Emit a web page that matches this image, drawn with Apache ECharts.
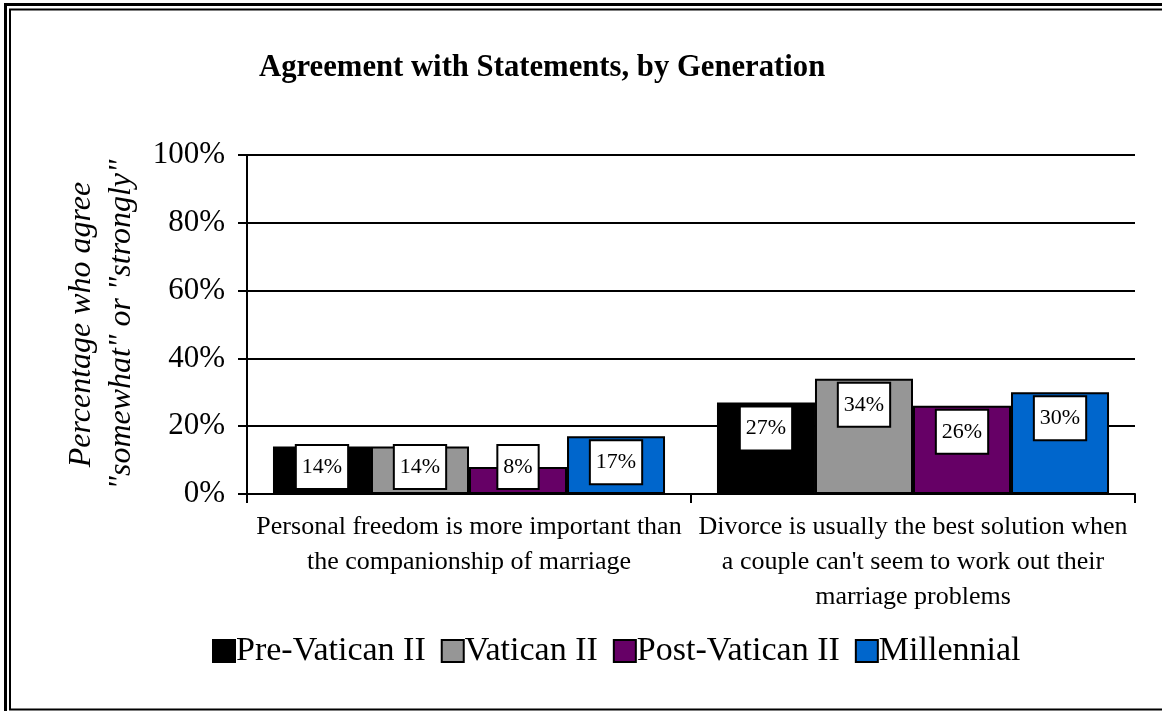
<!DOCTYPE html>
<html>
<head>
<meta charset="utf-8">
<script src="https://cdn.jsdelivr.net/npm/echarts@6/dist/echarts.min.js"></script>
<style>
  html, body { margin: 0; padding: 0; background: #fff; }
  #chart { width: 1162px; height: 711px; }
</style>
</head>
<body>
<div id="chart"></div>
<script>
  // 数据
  var categories = [
    'Personal freedom is more important than\nthe companionship of marriage',
    "Divorce is usually the best solution when\na couple can't seem to work out their\nmarriage problems"
  ];
  var seriesNames = ['Pre-Vatican II', 'Vatican II', 'Post-Vatican II', 'Millennial'];
  var preVatican = [14, 27];
  var vatican = [14, 34];
  var postVatican = [8, 26];
  var millennial = [17, 30];
  var yTicks = [0, 20, 40, 60, 80, 100];

  var colors = ['#000000', '#969696', '#660066', '#0066CC'];
  var font = '"Liberation Serif", "Times New Roman", serif';

  var chart = echarts.init(document.getElementById('chart'));

  function makeSeries(name, values, color) {
    return {
      name: name,
      type: 'bar',
      barGap: 0,
      barCategoryGap: '11.7%',
      itemStyle: {
        color: color,
        borderColor: '#000',
        borderWidth: 2
      },
      // 标签: 小柱子放在底部
      data: values.map(function (v) {
        var small = v < 16;
        return {
          value: v,
          label: {
            position: small ? 'insideBottom' : 'insideTop',
            distance: small ? 6 : 5
          }
        };
      }),
      label: {
        show: true,
        formatter: '{c}%',
        fontFamily: font,
        fontSize: 22,
        color: '#000',
        backgroundColor: '#fff',
        borderColor: '#000',
        borderWidth: 2,
        padding: [10, 5, 10, 5]
      }
    };
  }

  var option = {
    animation: false,
    title: {
      text: 'Agreement with Statements, by Generation',
      left: 254,
      top: 48,
      textStyle: {
        fontFamily: font,
        fontSize: 30.7,
        fontWeight: 'bold',
        color: '#000'
      }
    },
    legend: {
      data: seriesNames,
      left: 207,
      top: 629,
      itemWidth: 22,
      itemHeight: 22,
      itemGap: 15,
      icon: 'rect',
      itemStyle: {
        borderColor: '#000',
        borderWidth: 2
      },
      textStyle: {
        fontFamily: font,
        fontSize: 34,
        color: '#000',
        padding: [0, 0, 0, -4]
      }
    },
    grid: {
      left: 247,
      right: 27,
      top: 155,
      bottom: 217
    },
    xAxis: {
      type: 'category',
      data: categories,
      axisLine: { lineStyle: { color: '#000', width: 2 } },
      axisTick: { show: true, length: 9, lineStyle: { color: '#000', width: 2 } },
      axisLabel: {
        interval: 0,
        margin: 16,
        fontFamily: font,
        fontSize: 26,
        lineHeight: 35,
        color: '#000'
      }
    },
    yAxis: {
      type: 'value',
      min: 0,
      max: 100,
      interval: 20,
      name: 'Percentage who agree\n"somewhat" or "strongly"',
      nameLocation: 'middle',
      nameGap: 104,
      nameTextStyle: {
        fontFamily: font,
        fontSize: 32,
        fontStyle: 'italic',
        lineHeight: 40,
        color: '#000'
      },
      axisLine: { show: true, lineStyle: { color: '#000', width: 2 } },
      axisTick: { show: true, length: 9, lineStyle: { color: '#000', width: 2 } },
      axisLabel: {
        margin: 22,
        fontFamily: font,
        fontSize: 31,
        color: '#000',
        formatter: function (v) {
          return yTicks.indexOf(v) >= 0 ? v + '%' : '';
        }
      },
      splitLine: {
        show: true,
        lineStyle: { color: '#000', width: 2 }
      }
    },
    // 外框 (双线)
    graphic: [
      {
        type: 'rect',
        shape: { x: 5.5, y: 4.5, width: 1170, height: 720 },
        style: { fill: 'none', stroke: '#000', lineWidth: 3 },
        silent: true
      },
      {
        type: 'rect',
        shape: { x: 10, y: 9.5, width: 1170, height: 700 },
        style: { fill: 'none', stroke: '#000', lineWidth: 2 },
        silent: true
      }
    ],
    series: [
      makeSeries(seriesNames[0], preVatican, colors[0]),
      makeSeries(seriesNames[1], vatican, colors[1]),
      makeSeries(seriesNames[2], postVatican, colors[2]),
      makeSeries(seriesNames[3], millennial, colors[3])
    ]
  };
  chart.setOption(option);
</script>
</body>
</html>
